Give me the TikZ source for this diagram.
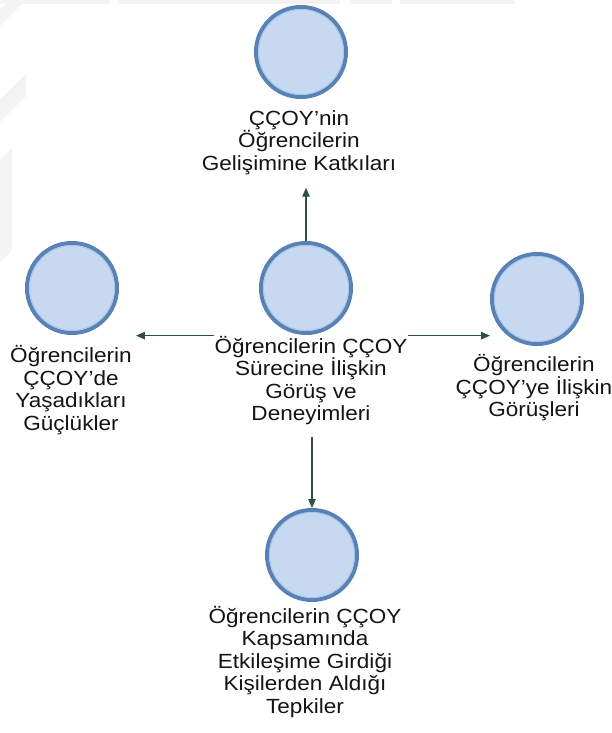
\documentclass[tikz,border=0pt]{standalone}
\usepackage{fontspec}
\setmainfont{Liberation Sans}[FakeStretch=1.1]
\usetikzlibrary{arrows.meta}

\definecolor{ringblue}{HTML}{5882B6}
\definecolor{fillblue}{HTML}{C6D9F0}
\definecolor{hiblue}{HTML}{A9C5E8}
\definecolor{arrowgreen}{HTML}{2F4F45}
\definecolor{textgray}{HTML}{141414}
\definecolor{faintmark}{HTML}{F3F3F3}

\begin{document}
\begin{tikzpicture}[x=1pt,y=-1pt,
  bubble/.style={circle, minimum size=90pt, inner sep=0pt, fill=fillblue,
                 draw=ringblue, line width=4pt},
  % a multi-line caption is placed by the baseline of its last line
  caption/.style={align=center, inner sep=0pt, anchor=base, text=textgray,
                  font=\fontsize{20.5}{22.6}\selectfont},
  link/.style={draw=arrowgreen, line width=1.2pt,
               -{Triangle[length=9pt,width=7.5pt]}},
  shine/.style={draw=hiblue, line width=1pt},
  bgmark/.style={fill=faintmark, draw=none},
]
\useasboundingbox (0,0) rectangle (612,733);
\clip (0,0) rectangle (612,733);
\fill[white] (0,0) rectangle (612,733);

% faint background marks
\fill[bgmark] (0,0) rectangle (110,4);
\fill[bgmark] (118,0) rectangle (340,4);
\fill[bgmark] (350,0) rectangle (392,4);
\fill[bgmark] (400,0) rectangle (515,4);
\fill[bgmark] (0,10) -- (10,0) -- (26,0) -- (0,26) -- cycle;
\fill[bgmark] (0,100) -- (26,74) -- (26,96) -- (0,122) -- cycle;
\fill[bgmark] (0,160) -- (12,148) -- (12,250) -- (0,262) -- cycle;

% bubbles
\node[bubble] (top) at (301,52)  {};
\node[bubble] (mid) at (306,288) {};
\node[bubble] (lft) at (72,288)  {};
\node[bubble] (rgt) at (537,299) {};
\node[bubble] (bot) at (312,555) {};
\foreach \n in {top,mid,lft,rgt,bot}
  \draw[shine] (\n.center) circle (42.5pt);

% captions
\node[caption] (topL) at (299,170.2) {ÇÇOY'nin\\Öğrencilerin\\Gelişimine Katkıları};
\node[caption] (midL) at (311,420.8) {Öğrencilerin ÇÇOY\\Sürecine İlişkin\\Görüş ve\\Deneyimleri};
\node[caption] (lftL) at (71,430.3)  {Öğrencilerin\\ÇÇOY'de\\Yaşadıkları\\Güçlükler};
\node[caption] (rgtL) at (534,416.7) {Öğrencilerin\\ÇÇOY'ye İlişkin\\Görüşleri};
\node[caption] (botL) at (305,713.4) {Öğrencilerin ÇÇOY\\Kapsamında\\Etkileşime Girdiği\\Kişilerden Aldığı\\Tepkiler};

% connectors
\draw[link, shorten >=13pt] (mid.north) -- (mid.north |- topL.south);
\draw[link, shorten <=12pt] (midL.south -| bot.north) -- (bot.north);
\draw[link, shorten >=4pt]  (midL.north west) -- (midL.north west -| lftL.north east);
\draw[link] (midL.north east) -- (midL.north east -| rgt.west);
\end{tikzpicture}
\end{document}
